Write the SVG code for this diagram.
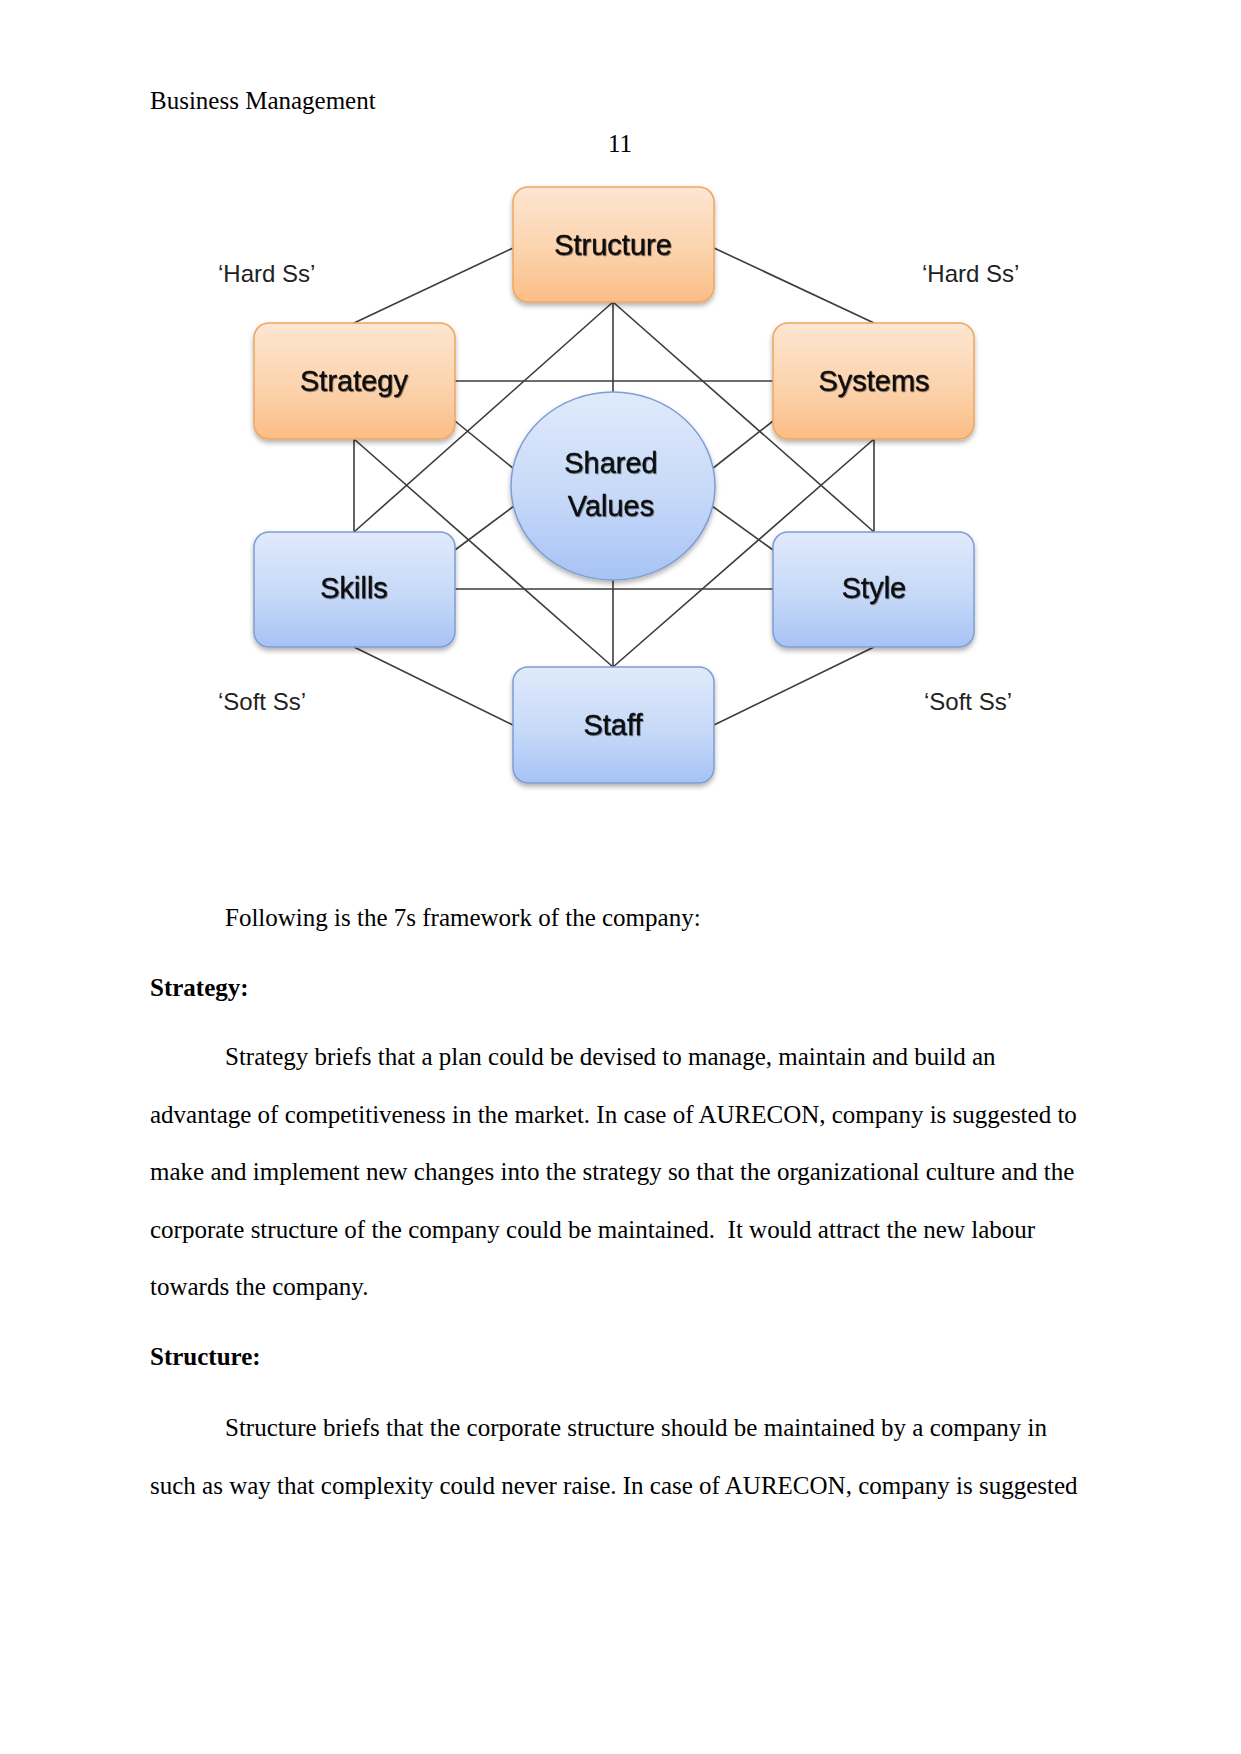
<svg xmlns="http://www.w3.org/2000/svg" width="1241" height="1754" viewBox="0 0 1241 1754">
  <style>
    .page { font-family: "Liberation Serif", "Times New Roman", serif; font-size: 25px; fill: #000; }
    .bold { font-weight: bold; }
    .lbl { font-family: "Liberation Sans", Arial, sans-serif; font-size: 29px; fill: #0a0a0a; text-anchor: middle; stroke: #0a0a0a; stroke-width: 0.35; }
    .side { font-family: "Liberation Sans", Arial, sans-serif; font-size: 24px; fill: #222; }
    .orange { fill: url(#gOrange); stroke: #f0a560; stroke-width: 1.5; filter: url(#shadow); }
    .blue { fill: url(#gBlue); stroke: #7d9dd3; stroke-width: 1.5; filter: url(#shadow); }
    .conn line { stroke: #3c3c3c; stroke-width: 1.6; }
  </style>
  <defs>
    <linearGradient id="gOrange" x1="0" y1="0" x2="0" y2="1">
      <stop offset="0" stop-color="#fde6d2"/>
      <stop offset="0.55" stop-color="#fcd3ad"/>
      <stop offset="1" stop-color="#fbbd85"/>
    </linearGradient>
    <linearGradient id="gBlue" x1="0" y1="0" x2="0" y2="1">
      <stop offset="0" stop-color="#e0eafb"/>
      <stop offset="0.55" stop-color="#c6d9f8"/>
      <stop offset="1" stop-color="#a7c3f5"/>
    </linearGradient>
    <filter id="shadow" x="-10%" y="-10%" width="120%" height="125%">
      <feDropShadow dx="0" dy="3" stdDeviation="2.5" flood-color="#000" flood-opacity="0.3"/>
    </filter>
    <filter id="tshadow" x="-5%" y="-20%" width="110%" height="140%">
      <feDropShadow dx="0.8" dy="1" stdDeviation="0.7" flood-color="#000" flood-opacity="0.45"/>
    </filter>
  </defs>

  <rect width="1241" height="1754" fill="#fff"/>

  <text class="page" x="150" y="109">Business Management</text>
  <text class="page" x="620" y="152" text-anchor="middle">11</text>

  <g class="conn" id="connectors">
    <line x1="354" y1="323" x2="513" y2="248"/>
    <line x1="714" y1="248" x2="874" y2="323"/>
    <line x1="455" y1="381" x2="773" y2="381"/>
    <line x1="613" y1="302" x2="613" y2="392"/>
    <line x1="613" y1="302" x2="354" y2="532"/>
    <line x1="613" y1="302" x2="874" y2="532"/>
    <line x1="354" y1="439" x2="354" y2="532"/>
    <line x1="354" y1="439" x2="613" y2="667"/>
    <line x1="874" y1="439" x2="874" y2="532"/>
    <line x1="874" y1="439" x2="613" y2="667"/>
    <line x1="455" y1="589" x2="773" y2="589"/>
    <line x1="613" y1="580" x2="613" y2="667"/>
    <line x1="354" y1="647" x2="513" y2="725"/>
    <line x1="874" y1="647" x2="714" y2="725"/>
    <line x1="455" y1="421" x2="514" y2="469"/>
    <line x1="773" y1="421" x2="712" y2="469"/>
    <line x1="455" y1="550" x2="514" y2="506"/>
    <line x1="773" y1="550" x2="712" y2="506"/>
  </g>

  <g id="node-structure">
    <rect class="orange" x="513" y="187" width="201" height="115" rx="15"/>
    <text class="lbl" x="613" y="255" filter="url(#tshadow)">Structure</text>
  </g>
  <g id="node-strategy">
    <rect class="orange" x="254" y="323" width="201" height="116" rx="15"/>
    <text class="lbl" x="354" y="391" filter="url(#tshadow)">Strategy</text>
  </g>
  <g id="node-systems">
    <rect class="orange" x="773" y="323" width="201" height="116" rx="15"/>
    <text class="lbl" x="874" y="391" filter="url(#tshadow)">Systems</text>
  </g>
  <g id="node-shared-values">
    <ellipse class="blue" cx="613" cy="486" rx="102" ry="94"/>
    <text class="lbl" x="611" y="473" filter="url(#tshadow)">Shared</text>
    <text class="lbl" x="611" y="516" filter="url(#tshadow)">Values</text>
  </g>
  <g id="node-skills">
    <rect class="blue" x="254" y="532" width="201" height="115" rx="15"/>
    <text class="lbl" x="354" y="598" filter="url(#tshadow)">Skills</text>
  </g>
  <g id="node-style">
    <rect class="blue" x="773" y="532" width="201" height="115" rx="15"/>
    <text class="lbl" x="874" y="598" filter="url(#tshadow)">Style</text>
  </g>
  <g id="node-staff">
    <rect class="blue" x="513" y="667" width="201" height="116" rx="15"/>
    <text class="lbl" x="613" y="735" filter="url(#tshadow)">Staff</text>
  </g>

  <text class="side" x="218" y="282">‘Hard Ss’</text>
  <text class="side" x="922" y="282">‘Hard Ss’</text>
  <text class="side" x="218" y="710">‘Soft Ss’</text>
  <text class="side" x="924" y="710">‘Soft Ss’</text>

  <text class="page" x="225" y="926">Following is the 7s framework of the company:</text>
  <text class="page bold" x="150" y="996">Strategy:</text>
  <text class="page" x="225" y="1065">Strategy briefs that a plan could be devised to manage, maintain and build an</text>
  <text class="page" x="150" y="1123">advantage of competitiveness in the market. In case of AURECON, company is suggested to</text>
  <text class="page" x="150" y="1180">make and implement new changes into the strategy so that the organizational culture and the</text>
  <text class="page" x="150" y="1238" xml:space="preserve">corporate structure of the company could be maintained.  It would attract the new labour</text>
  <text class="page" x="150" y="1295">towards the company.</text>
  <text class="page bold" x="150" y="1365">Structure:</text>
  <text class="page" x="225" y="1436">Structure briefs that the corporate structure should be maintained by a company in</text>
  <text class="page" x="150" y="1494">such as way that complexity could never raise. In case of AURECON, company is suggested</text>
</svg>
